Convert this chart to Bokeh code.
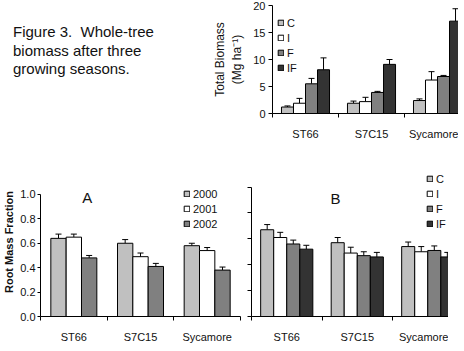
from bokeh.plotting import figure
from bokeh.models import (ColumnDataSource, Whisker, TeeHead, FixedTicker, Range1d,
                          Label, Div, PrintfTickFormatter)
from bokeh.layouts import row, column
from bokeh.embed import file_html
from bokeh.resources import INLINE

# ---------------- data ----------------
clones = ["ST66", "S7C15", "Sycamore"]
treatments = ["C", "I", "F", "IF"]
years = ["2000", "2001", "2002"]

# Total biomass (Mg/ha) by treatment
biomass_C = [1.2, 1.9, 2.4]
biomass_I = [1.9, 2.2, 6.2]
biomass_F = [5.5, 3.9, 6.85]
biomass_IF = [8.1, 9.1, 17.1]
biomass_C_err = [0.2, 0.4, 0.3]
biomass_I_err = [0.9, 0.8, 1.55]
biomass_F_err = [1.0, 0.2, 0.2]
biomass_IF_err = [2.2, 0.9, 2.3]

# Root mass fraction by year (panel A)
rmf_2000 = [0.64, 0.60, 0.58]
rmf_2001 = [0.65, 0.49, 0.54]
rmf_2002 = [0.48, 0.41, 0.38]
rmf_2000_err = [0.035, 0.03, 0.02]
rmf_2001_err = [0.025, 0.03, 0.025]
rmf_2002_err = [0.02, 0.025, 0.025]

# Root mass fraction by treatment (panel B)
rmf_C = [0.67, 0.57, 0.54]
rmf_I = [0.61, 0.49, 0.50]
rmf_F = [0.56, 0.47, 0.51]
rmf_IF = [0.52, 0.46, 0.46]
rmf_C_err = [0.04, 0.04, 0.035]
rmf_I_err = [0.04, 0.045, 0.04]
rmf_F_err = [0.03, 0.03, 0.035]
rmf_IF_err = [0.03, 0.035, 0.035]

biomass_ticks = [0, 5, 10, 15, 20]
rmf_ticks = [0, 0.2, 0.4, 0.6, 0.8, 1.0]

colors4 = ["#c0c0c0", "#ffffff", "#808080", "#333333"]
colors3 = ["#c0c0c0", "#ffffff", "#808080"]

FONT = "Liberation Sans"
TXT = "#111111"


def base_fig(width, height, xend, yend, borders, label_size):
    l, r, t, b = borders
    p = figure(width=width, height=height, x_range=Range1d(0, xend),
               y_range=Range1d(0, yend), output_backend="svg",
               toolbar_location=None, min_border_left=l, min_border_right=r,
               min_border_top=t, min_border_bottom=b)
    p.xgrid.visible = False
    p.ygrid.visible = False
    p.outline_line_color = None
    p.background_fill_color = "white"
    p.border_fill_color = "white"
    centers = [i + 0.5 for i in range(len(clones))]
    p.xaxis.ticker = FixedTicker(ticks=centers, minor_ticks=[0, 1, 2, 3])
    p.xaxis.major_label_overrides = {c: n for c, n in zip(centers, clones)}
    p.xaxis.major_tick_out = 0
    p.xaxis.major_tick_in = 0
    p.xaxis.minor_tick_out = 4
    p.xaxis.minor_tick_in = 0
    p.xaxis.major_label_standoff = 10
    p.yaxis.major_tick_out = 4
    p.yaxis.major_tick_in = 0
    p.yaxis.minor_tick_out = 4
    p.yaxis.minor_tick_in = 0
    p.yaxis.major_label_standoff = 3
    for ax in (p.xaxis, p.yaxis):
        ax.axis_line_color = "black"
        ax.major_tick_line_color = "black"
        ax.minor_tick_line_color = "black"
        ax.major_label_text_font = FONT
        ax.major_label_text_font_size = label_size
        ax.major_label_text_color = TXT
    return p


def add_bars(p, series, errs, names, colors, width):
    n = len(series)
    for j, (vals, err, name, col) in enumerate(zip(series, errs, names, colors)):
        off = (j - (n - 1) / 2) * width
        xs = [i + 0.5 + off for i in range(len(vals))]
        src = ColumnDataSource(dict(x=xs, top=vals,
                                    upper=[v + e for v, e in zip(vals, err)]))
        p.vbar(x="x", top="top", width=width, source=src, fill_color=col,
               line_color="black", line_width=1, legend_label=name)
        p.add_layout(Whisker(source=src, base="x", lower="top", upper="upper",
                             line_color="black", line_width=1, lower_head=None,
                             upper_head=TeeHead(size=6, line_color="black",
                                                line_width=1)))


def style_legend(p, loc):
    lg = p.legend[0]
    lg.location = loc
    lg.margin = 0
    lg.padding = 0
    lg.spacing = 2
    lg.glyph_width = 7
    lg.glyph_height = 7
    lg.label_height = 13
    lg.label_standoff = 3
    lg.label_text_font = FONT
    lg.label_text_font_size = "11px"
    lg.label_text_color = TXT
    lg.border_line_color = None
    lg.background_fill_alpha = 0


# ---------------- top: total biomass ----------------
ptop = base_fig(256, 142, 2.818, 20, (70, 0, 5, 27), "11px")
ptop.yaxis.ticker = FixedTicker(ticks=biomass_ticks)
add_bars(ptop, [biomass_C, biomass_I, biomass_F, biomass_IF],
         [biomass_C_err, biomass_I_err, biomass_F_err, biomass_IF_err],
         treatments, colors4, 0.182)
ptop.yaxis.axis_label = "Total Biomass\n(Mg ha\u207b\u00b9)"
ptop.yaxis.axis_label_text_font = FONT
ptop.yaxis.axis_label_text_font_size = "12px"
ptop.yaxis.axis_label_text_font_style = "normal"
ptop.yaxis.axis_label_text_color = TXT
ptop.yaxis.axis_label_standoff = 6
style_legend(ptop, (5, 39))

caption = Div(text=('<div style="font-family: \'Liberation Sans\', Arial, sans-serif;'
                    ' font-size: 15px; line-height: 18.5px; color: #111;'
                    ' padding-left: 8px; padding-top: 18px;">'
                    'Figure 3.&nbsp; Whole-tree<br>biomass after three<br>'
                    'growing seasons.</div>'),
              width=192, height=142)

# ---------------- bottom A: root mass fraction by year ----------------
# frames of A and B share top/bottom edges in the row; y-range ends set the scales
pa = base_fig(244, 193, 3.0, 1.2205, (38, 4, 15, 23), "11px")
pa.yaxis.ticker = FixedTicker(ticks=rmf_ticks)
pa.yaxis.bounds = (0, 1)
pa.yaxis.formatter = PrintfTickFormatter(format="%.1f")
pa.yaxis.major_label_standoff = 2
pa.yaxis.major_tick_out = 3
pa.yaxis.axis_label = "Root Mass Fraction"
pa.yaxis.axis_label_text_font = FONT
pa.yaxis.axis_label_text_font_size = "11px"
pa.yaxis.axis_label_text_font_style = "bold"
pa.yaxis.axis_label_text_color = TXT
pa.yaxis.axis_label_standoff = 2
add_bars(pa, [rmf_2000, rmf_2001, rmf_2002],
         [rmf_2000_err, rmf_2001_err, rmf_2002_err], years, colors3, 0.23)
style_legend(pa, (143, 86))
pa.add_layout(Label(x=0.70, y=0.976, text="A", text_font=FONT, text_font_size="15px",
                    text_align="center", text_baseline="middle", text_color=TXT))

# ---------------- bottom B: root mass fraction by treatment ----------------
pb = base_fig(204, 193, 2.794, 1.1507, (7, 0, 15, 23), "11px")
pb.yaxis.ticker = FixedTicker(ticks=[], minor_ticks=rmf_ticks)
pb.yaxis.bounds = (0, 1)
pb.yaxis.major_label_standoff = 0
add_bars(pb, [rmf_C, rmf_I, rmf_F, rmf_IF],
         [rmf_C_err, rmf_I_err, rmf_F_err, rmf_IF_err], treatments, colors4, 0.185)
style_legend(pb, (175, 86))
pb.add_layout(Label(x=1.19, y=0.913, text="B", text_font=FONT, text_font_size="15px",
                    text_align="center", text_baseline="middle", text_color=TXT))

layout = column(row(caption, ptop), row(pa, pb))

open("out.html", "w").write(file_html(layout, INLINE))
